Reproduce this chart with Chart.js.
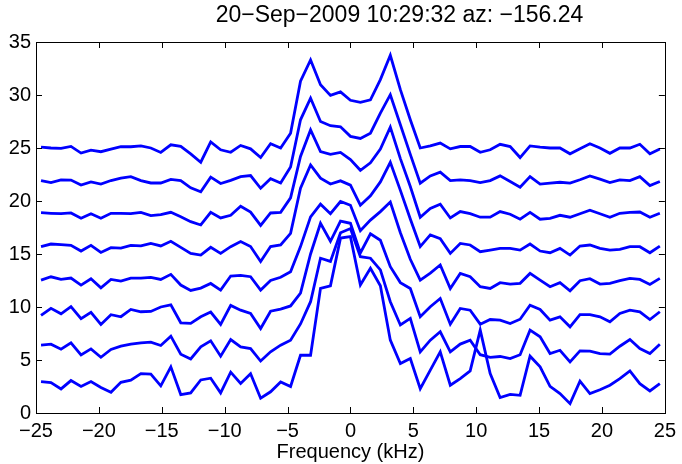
<!DOCTYPE html>
<html>
<head>
<meta charset="utf-8">
<title>Spectra stack</title>
<script src="https://cdn.jsdelivr.net/npm/chart.js@4.4.1/dist/chart.umd.min.js"></script>
<style>
  html, body { margin: 0; padding: 0; background: #fff; }
  #wrap { width: 682px; height: 464px; }
</style>
</head>
<body>
<div id="wrap"><canvas id="spectraChart" width="682" height="464"></canvas></div>
<script>
// chart values
const titleText = '20\u2212Sep\u22122009 10:29:32 az: \u2212156.24';
const xLabel = 'Frequency (kHz)';

const freqs = [
  -24.60, -23.81, -23.01, -22.22, -21.42, -20.63, -19.84, -19.04, -18.25, -17.46,
  -16.66, -15.87, -15.08, -14.28, -13.49, -12.70, -11.90, -11.11, -10.32, -9.52,
  -8.73, -7.94, -7.14, -6.35, -5.55, -4.76, -3.97, -3.17, -2.38, -1.59, -0.79,
  0,
  0.79, 1.59, 2.38, 3.17, 3.97, 4.76, 5.55, 6.35, 7.14, 7.94, 8.73,
  9.52, 10.32, 11.11, 11.90, 12.70, 13.49, 14.28, 15.08, 15.87, 16.66,
  17.46, 18.25, 19.04, 19.84, 20.63, 21.42, 22.22, 23.01, 23.81, 24.60
];

const trace1 = [
  25.08, 25.0, 24.97, 25.15, 24.52, 24.8, 24.65, 24.9, 25.12, 25.12, 25.2, 25.0, 24.58, 25.3, 25.15, 24.45, 23.66, 25.58, 24.83, 24.6,
  25.24, 24.92, 24.1, 25.4, 25.0, 26.4, 31.3, 33.3, 30.97, 29.96, 30.3, 29.5, 29.3, 29.55, 31.45, 33.75, 30.5, 27.66, 25.0, 25.2, 25.46, 24.92,
  25.14, 25.14, 24.6, 24.83, 25.35, 25.14, 24.1, 25.2, 25.08, 25.0, 25.0, 24.45, 24.92, 25.4, 25.0, 24.5, 25.0, 25.0, 25.35, 24.45, 24.9
];
const trace2 = [
  21.93, 21.74, 22.0, 21.97, 21.5, 21.8, 21.6, 21.93, 22.15, 22.3, 21.93, 21.7, 21.7, 22.03, 21.93, 21.24, 20.86, 22.25, 21.65, 21.95,
  22.3, 22.4, 21.2, 22.1, 21.7, 23.2, 27.66, 29.7, 27.5, 27.1, 27.0, 26.1, 25.9, 26.4, 28.3, 30.03, 27.2, 24.4, 21.68, 22.37, 22.72, 21.93,
  22.0, 21.93, 21.74, 21.93, 22.37, 21.84, 21.3, 22.3, 21.6, 21.68, 21.77, 21.68, 22.0, 22.37, 22.06, 21.74, 22.0, 21.93, 22.3, 21.46, 21.84
];
const trace3 = [
  18.9, 18.84, 18.8, 18.87, 18.37, 18.8, 18.37, 18.84, 18.84, 18.8, 18.93, 18.62, 18.71, 18.93, 18.52, 18.05, 17.74, 18.93, 18.4, 18.65,
  19.5, 18.95, 17.7, 18.87, 18.93, 20.3, 24.2, 26.7, 24.67, 24.4, 24.58, 23.9, 22.9, 23.6, 24.9, 26.97, 24.0, 21.37, 18.47, 19.3, 19.7, 18.4,
  19.0, 18.8, 18.47, 18.47, 19.0, 18.75, 18.28, 18.93, 18.28, 18.37, 18.65, 18.47, 18.8, 19.13, 18.8, 18.47, 18.84, 18.93, 18.96, 18.47, 18.84
];
const trace4 = [
  15.69, 15.94, 15.88, 15.82, 15.28, 15.82, 15.15, 15.6, 15.56, 15.82, 15.76, 16.0, 15.76, 16.2, 15.63, 15.06, 14.9, 15.63, 15.06, 15.69,
  16.17, 15.7, 14.3, 15.7, 15.85, 16.95, 21.2, 23.4, 22.15, 21.6, 21.9, 21.5, 19.6, 20.5, 21.8, 23.65, 21.0, 18.3, 15.7, 16.8, 16.45, 15.06,
  16.0, 15.85, 15.22, 15.37, 15.53, 15.53, 15.37, 15.94, 15.28, 15.12, 15.53, 14.9, 15.75, 15.85, 15.53, 15.37, 15.44, 15.69, 15.69, 15.12, 15.75
];
const trace5 = [
  12.54, 12.85, 12.6, 12.73, 12.07, 12.67, 11.81, 12.6, 12.44, 12.73, 12.73, 12.79, 12.6, 13.08, 12.07, 11.56, 11.78, 12.22, 11.59, 12.92,
  12.99, 12.86, 11.6, 12.5, 12.8, 13.33, 15.7, 18.5, 19.7, 18.8, 19.95, 19.6, 17.2, 18.2, 19.0, 19.9, 17.0, 14.5, 12.54, 13.2, 13.96, 11.75,
  13.17, 12.86, 11.91, 11.75, 12.29, 12.16, 12.23, 13.17, 12.54, 11.91, 12.29, 11.53, 12.48, 12.67, 12.16, 12.23, 12.48, 12.7, 12.6, 12.13, 12.7
];
const trace6 = [
  9.2, 9.87, 9.36, 10.03, 8.9, 9.5, 8.35, 9.27, 9.08, 9.77, 9.55, 9.58, 10.0, 10.2, 8.51, 8.45, 9.08, 9.52, 8.35, 10.15,
  9.7, 9.4, 7.97, 9.6, 9.8, 10.1, 11.3, 15.0, 17.9, 16.2, 18.1, 17.9, 15.1, 16.9, 16.3, 13.8, 12.3, 11.75, 9.08, 10.02, 10.8, 8.38,
  9.86, 9.7, 8.38, 8.82, 8.76, 8.44, 8.85, 10.17, 9.77, 8.76, 9.07, 8.13, 9.29, 9.29, 9.07, 8.6, 9.39, 9.7, 9.55, 8.82, 9.55
];
const trace7 = [
  6.4, 6.49, 6.02, 6.62, 5.48, 6.05, 5.26, 5.99, 6.3, 6.49, 6.62, 6.68, 6.37, 7.25, 5.55, 5.1, 6.24, 6.81, 5.36, 6.93,
  6.24, 6.08, 4.9, 5.77, 6.4, 6.87, 8.4, 10.5, 14.6, 14.3, 17.0, 17.4, 14.75, 14.6, 13.5, 10.5, 8.3, 8.92, 5.77, 6.87, 7.66, 5.77,
  6.5, 6.87, 5.5, 5.25, 5.33, 5.14, 5.5, 7.82, 7.19, 5.61, 5.92, 4.82, 5.86, 5.83, 5.61, 5.55, 6.3, 6.93, 6.08, 5.61, 6.49
];
const trace8 = [
  2.97, 2.87, 2.27, 3.06, 2.5, 2.97, 2.4, 1.96, 2.9, 3.09, 3.72, 3.66, 2.56, 4.35, 1.74, 1.9, 3.12, 3.28, 1.9, 3.85,
  2.78, 3.7, 1.4, 2.0, 2.93, 2.5, 5.45, 5.45, 11.76, 12.0, 16.5, 16.64, 12.07, 13.65, 12.0, 6.87, 4.67, 5.14, 2.3, 4.04, 5.77, 2.62,
  3.25, 3.97, 7.82, 3.72, 1.45, 1.76, 1.67, 5.36, 4.35, 2.52, 1.83, 0.88, 3.0, 1.83, 2.2, 2.62, 3.25, 3.97, 2.77, 2.08, 2.77
];

const traces = [trace1, trace2, trace3, trace4, trace5, trace6, trace7, trace8];

const FONT = '"Liberation Sans", Arial, Helvetica, sans-serif';
const minusSign = v => String(v).replace('-', '\u2212');

// title sits a bit right of centre in the original, so draw it by hand
const offsetTitle = {
  id: 'offsetTitle',
  afterDraw(chart) {
    const c = chart.ctx;
    c.save();
    c.fillStyle = '#000';
    c.font = '23px ' + FONT;
    c.textAlign = 'center';
    c.textBaseline = 'middle';
    c.fillText(titleText, 399.5, 16);
    c.restore();
  }
};

// matlab style box with inward ticks on all four sides
const matlabBox = {
  id: 'matlabBox',
  afterDraw(chart) {
    const { ctx, chartArea: a, scales: { x, y } } = chart;
    const len = 6;
    ctx.save();
    ctx.strokeStyle = '#000';
    ctx.lineWidth = 1;
    ctx.strokeRect(Math.round(a.left) + 0.5, Math.round(a.top) + 0.5,
      Math.round(a.right - a.left), Math.round(a.bottom - a.top));
    ctx.beginPath();
    x.ticks.forEach(t => {
      const px = Math.round(x.getPixelForValue(t.value)) + 0.5;
      ctx.moveTo(px, a.bottom); ctx.lineTo(px, a.bottom - len);
      ctx.moveTo(px, a.top); ctx.lineTo(px, a.top + len);
    });
    y.ticks.forEach(t => {
      const py = Math.round(y.getPixelForValue(t.value)) + 0.5;
      ctx.moveTo(a.left, py); ctx.lineTo(a.left + len, py);
      ctx.moveTo(a.right, py); ctx.lineTo(a.right - len, py);
    });
    ctx.stroke();
    ctx.restore();
  }
};

const ctx = document.getElementById('spectraChart').getContext('2d');
new Chart(ctx, {
  type: 'line',
  data: {
    datasets: traces.map((vals, i) => ({
      label: 'trace ' + (i + 1),
      data: freqs.map((f, j) => ({ x: f, y: vals[j] })),
      borderColor: '#0000ff',
      borderWidth: 2.8,
      pointRadius: 0,
      tension: 0,
      fill: false
    }))
  },
  options: {
    responsive: false,
    animation: false,
    layout: { padding: { left: 0, right: 14, top: 42, bottom: 0 } },
    plugins: {
      legend: { display: false },
      tooltip: { enabled: false },
      title: { display: false }
    },
    scales: {
      x: {
        type: 'linear',
        min: -25,
        max: 25,
        grid: { display: false, drawTicks: false },
        border: { display: false },
        ticks: {
          stepSize: 5,
          autoSkip: false,
          maxRotation: 0,
          padding: 6,
          color: '#000',
          font: { family: FONT, size: 20 },
          callback: v => minusSign(v)
        },
        title: {
          display: true,
          text: xLabel,
          color: '#000',
          font: { family: FONT, size: 20 },
          padding: { top: 0, bottom: 0 }
        },
        afterFit: s => { s.height = 51; }
      },
      y: {
        min: 0,
        max: 35,
        grid: { display: false, drawTicks: false },
        border: { display: false },
        ticks: {
          stepSize: 5,
          padding: 5,
          color: '#000',
          font: { family: FONT, size: 20 },
          callback: v => minusSign(v)
        },
        afterFit: s => { s.width = 36; }
      }
    }
  },
  plugins: [matlabBox, offsetTitle]
});
</script>
</body>
</html>
